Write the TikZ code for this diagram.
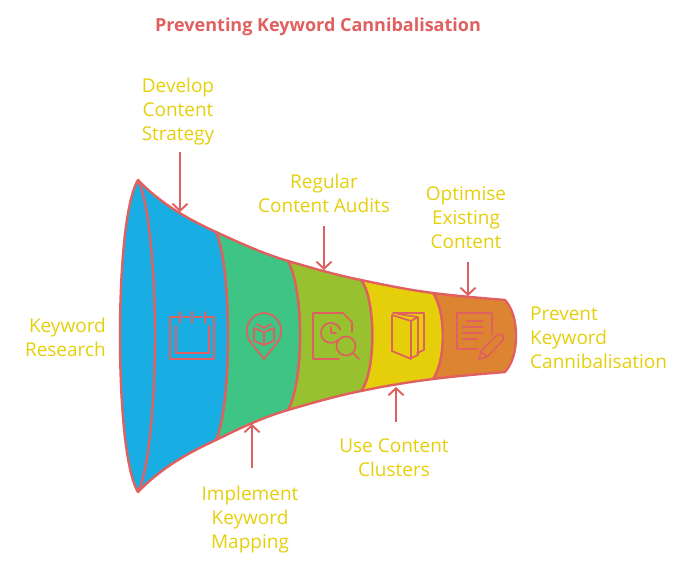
\documentclass[tikz,border=0pt]{standalone}
\usepackage{fontspec}
\setmainfont{Open Sans}
\usetikzlibrary{arrows.meta,positioning}
\definecolor{linered}{HTML}{E0605F}
\definecolor{labelyellow}{HTML}{E5CF0B}
\definecolor{segblue}{HTML}{18AEE3}
\definecolor{seggreen}{HTML}{3EC484}
\definecolor{segolive}{HTML}{97C12F}
\definecolor{segyellow}{HTML}{E5CF0B}
\definecolor{segorange}{HTML}{DD8433}
\begin{document}
\begin{tikzpicture}[x=1pt,y=-1pt,>={Straight Barb[length=7pt,width=15pt]},
  seg/.style={draw=linered,line width=2.4pt,line join=round},
  icon/.style={draw=linered,line width=1.7pt,line join=round,line cap=round},
  flow/.style={->,draw=linered,line width=1.9pt},
  label node/.style={text=labelyellow,font=\fontsize{19}{24}\selectfont,align=center,inner sep=0pt},
  title node/.style={text=linered,font=\fontsize{18}{24}\selectfont\bfseries,inner sep=0pt}]
  \useasboundingbox (0,0) rectangle (684,564);

  \node[title node] (title) at (318,27) {Preventing Keyword Cannibalisation};
  \node[label node] (develop) at (178,112) {Develop\\Content\\Strategy};
  \node[label node] (audits) at (324,193) {Regular\\Content Audits};
  \node[label node] (optimise) at (466,218) {Optimise\\Existing\\Content};
  \node[label node,align=right,anchor=east] (research) at (106,337) {Keyword\\Research};
  \node[label node,align=left,anchor=west] (prevent) at (530,338) {Prevent\\Keyword\\Cannibalisation};
  \node[label node] (mapping) at (250,520) {Implement\\Keyword\\Mapping};
  \node[label node] (clusters) at (394,458) {Use Content\\Clusters};

  % funnel, narrow end first
  \path[seg,fill=segorange] (433,293) .. controls (457,296) and (481,298) .. (505,300)
    .. controls (512,308) and (516,320) .. (516,336)
    .. controls (516,352) and (512,364) .. (505,372)
    .. controls (481,374) and (457,376) .. (433,379)
    .. controls (446,360) and (446,312) .. (433,293) -- cycle;
  \path[seg,fill=segyellow] (361,280) .. controls (385,285) and (409,290) .. (433,293)
    .. controls (446,312) and (446,360) .. (433,379)
    .. controls (409,382) and (385,386) .. (361,391)
    .. controls (376,372) and (376,299) .. (361,280) -- cycle;
  \path[seg,fill=segolive] (288,261) .. controls (312,268) and (336,275) .. (361,280)
    .. controls (376,299) and (376,372) .. (361,391)
    .. controls (336,396) and (312,403) .. (288,410)
    .. controls (304,380) and (304,291) .. (288,261) -- cycle;
  \path[seg,fill=seggreen] (216,232) .. controls (240,243) and (264,254) .. (288,261)
    .. controls (304,291) and (304,380) .. (288,410)
    .. controls (264,417) and (240,428) .. (216,440)
    .. controls (232,402) and (232,270) .. (216,232) -- cycle;
  \path[seg,fill=segblue] (138,180) .. controls (162,205) and (190,220) .. (216,232)
    .. controls (232,270) and (232,402) .. (216,440)
    .. controls (190,452) and (162,467) .. (138,492)
    .. controls (125,470) and (120,400) .. (120,336)
    .. controls (120,272) and (125,202) .. (138,180) -- cycle;
  \path[seg] (138,180) .. controls (149,202) and (155,272) .. (155,336)
    .. controls (155,400) and (149,470) .. (138,492);

  % arrows
  \coordinate (developend) at (180,212);
  \coordinate (auditsend) at (324,270);
  \coordinate (optimiseend) at (468,296);
  \coordinate (mappingend) at (252,424);
  \coordinate (clustersend) at (396,387);
  \draw[flow] ([yshift=-6pt]develop.south -| developend) -- (developend);
  \draw[flow] ([yshift=-13pt]audits.south -| auditsend) -- (auditsend);
  \draw[flow] ([yshift=-13pt]optimise.south -| optimiseend) -- (optimiseend);
  \draw[flow] ([yshift=18pt]mapping.north -| mappingend) -- (mappingend);
  \draw[flow] ([yshift=17pt]clusters.north -| clustersend) -- (clustersend);

  % calendar
  \path[icon] (180,317) -- (170,317) -- (170,359) -- (214,359) -- (214,317) -- (205,317)
    (183,317) -- (189,317) (195,317) -- (202,317)
    (176,326) -- (176,353) -- (209,353) -- (209,326)
    (180,312) -- (180,323) (192,312) -- (192,323) (205,312) -- (205,323);
  % pin with book
  \path[icon] (264,359) -- (251,343) .. controls (241,330) and (250,313) .. (264,313)
    .. controls (278,313) and (287,330) .. (277,343) -- cycle;
  \path[icon] (264,345) -- (254,341) -- (254,328) -- (264,332) -- (274,328) -- (274,341) -- cycle
    (264,332) -- (264,345) (257,324) -- (264,328) -- (271,324);
  % document with clock and lens
  \path[icon] (339,359) -- (313,359) -- (313,313) -- (343,313) -- (352,322) -- (352,332);
  \path[icon] (338,340) arc[start angle=45,end angle=340,radius=10]
    (331,327) -- (331,333) -- (336,333);
  \path[icon] (346,346) circle[radius=9.5] (353,353) -- (359,359);
  % books
  \path[icon] (392,315) -- (411,321) -- (411,359) -- (392,351) -- cycle
    (393,313) -- (424,313) -- (424,350) -- (417,353)
    (398,314) -- (418,317) -- (418,355) -- (411,358)
    (411,321) -- (418,317);
  % note with pencil
  \path[icon] (478,349) -- (457,349) -- (457,313) -- (492,313) -- (492,335);
  \path[icon] (467,321) -- (483,321) (463,327) -- (483,327) (463,333) -- (483,333) (463,339) -- (477,339);
  \path[icon] (479,359) -- (481,351) -- (497,335) .. controls (500,332) and (506,337) .. (503,340)
    -- (487,357) -- cycle (481,351) -- (487,357);
\end{tikzpicture}
\end{document}
